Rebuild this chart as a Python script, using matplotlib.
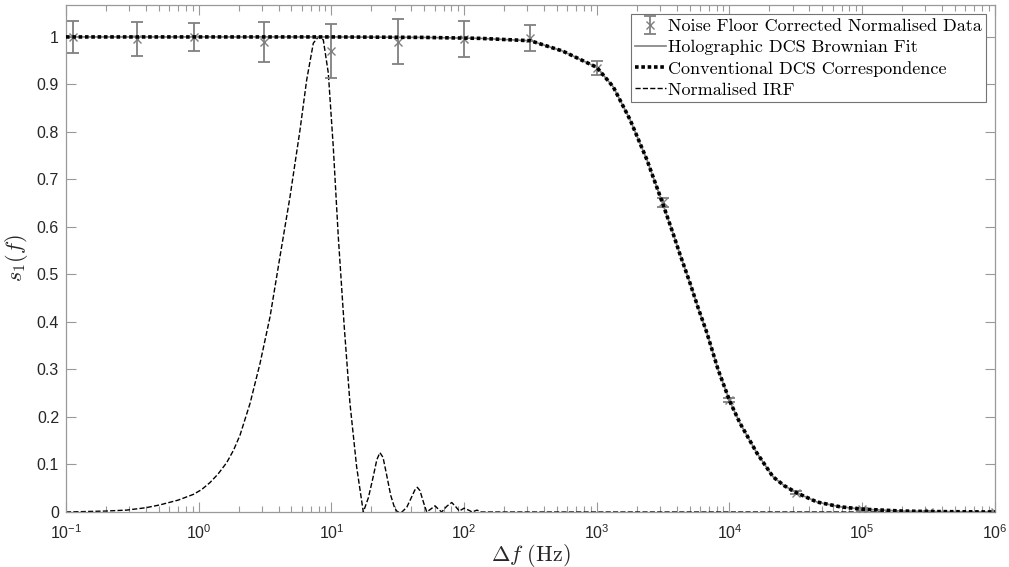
import matplotlib
matplotlib.use("Agg")
import matplotlib.pyplot as plt
from matplotlib.ticker import FuncFormatter, LogLocator, NullFormatter
from matplotlib.font_manager import FontProperties

# measured data (normalised, noise floor corrected)
freq_data = [0.1135, 0.345, 0.922, 3.12, 10.0, 31.6, 100, 316, 1000, 3162,
             10000, 31623, 100000, 316228, 1000000]
s1_data = [1.0, 0.995, 1.0, 0.99, 0.971, 0.99, 0.996, 0.998, 0.935, 0.652,
           0.236, 0.041, 0.006, 0.001, 0.0]
s1_err = [0.033, 0.036, 0.03, 0.042, 0.057, 0.047, 0.038, 0.027, 0.015, 0.01,
          0.005, 0.004, 0.003, 0.002, 0.002]

# fitted curve (holographic fit == conventional DCS correspondence)
freq_fit = [0.1, 1, 10, 50, 132, 316, 556, 1000, 1330, 1780, 2390, 3160,
            3750, 4240, 5040, 5800, 6760, 8200, 10090, 12000, 16100, 21300,
            26000, 32300, 45700, 68000, 100000, 200000, 316000, 1000000]
s1_fit = [1.0, 1.0, 1.0, 0.999, 0.997, 0.992, 0.97, 0.936, 0.895, 0.826,
          0.741, 0.647, 0.587, 0.542, 0.482, 0.43, 0.377, 0.3, 0.232, 0.187,
          0.124, 0.074, 0.055, 0.04, 0.021, 0.011, 0.006, 0.002, 0.001, 0.0]

# normalised instrument response function
freq_irf = [0.1, 0.2, 0.287, 0.4, 0.511, 0.7, 0.91, 1.05, 1.217, 1.4, 1.626,
            1.83, 2.05, 2.44, 2.9, 3.45, 4.1, 4.88, 5.8, 6.51, 7.31, 7.97,
            8.69, 9.48, 10.33, 11.27, 12.5, 13.8, 15.5, 17.4, 19.0, 20.5,
            22.0, 23.2, 24.5, 26.0, 28.0, 30.0, 31.5, 34.0, 37.0, 40.0, 42.5,
            44.4, 46.5, 49.5, 52.3, 56.0, 60.4, 64.0, 67.8, 74.0, 80.7, 86.0,
            92.0, 100, 108, 115, 125, 135, 150, 1000000]
s1_irf = [0.0, 0.002, 0.004, 0.009, 0.015, 0.025, 0.037, 0.047, 0.062, 0.08,
          0.104, 0.13, 0.162, 0.229, 0.313, 0.411, 0.538, 0.664, 0.804, 0.909,
          0.987, 1.0, 0.994, 0.924, 0.769, 0.58, 0.39, 0.229, 0.095, 0.0,
          0.03, 0.07, 0.11, 0.125, 0.115, 0.08, 0.035, 0.008, 0.0, 0.0, 0.01,
          0.03, 0.046, 0.052, 0.045, 0.02, 0.0, 0.006, 0.013, 0.006, 0.0,
          0.012, 0.02, 0.012, 0.002, 0.008, 0.004, 0.0, 0.004, 0.0, 0.0, 0.0]

grey = (0.5, 0.5, 0.5)
axcol = (0.6, 0.6, 0.6)
txtcol = (0.15, 0.15, 0.15)

plt.rcParams['font.family'] = 'Liberation Sans'
plt.rcParams['mathtext.fontset'] = 'custom'
plt.rcParams['mathtext.rm'] = 'Liberation Sans'
plt.rcParams['mathtext.it'] = 'Liberation Sans:italic'

fig = plt.figure(figsize=(10.09, 5.67), dpi=100)
ax = fig.add_axes([0.0654, 0.097, 0.9206, 0.894])

eb = ax.errorbar(freq_data, s1_data, yerr=s1_err, fmt='x', color=grey,
                 markersize=6, capsize=4, elinewidth=1.3, capthick=1.3,
                 label='Noise Floor Corrected Normalised Data', zorder=3)
fit, = ax.plot(freq_fit, s1_fit, '-', color=grey, linewidth=1.2,
               label='Holographic DCS Brownian Fit', zorder=4)
conv, = ax.plot(freq_fit, s1_fit, linestyle=(0, (1, 0.75)), color='black',
                linewidth=2.6, label='Conventional DCS Correspondence', zorder=5)
irf, = ax.plot(freq_irf, s1_irf, '--', color='black', linewidth=1.0,
               label='Normalised IRF', zorder=2)

ax.set_xscale('log')
ax.set_xlim(0.1, 1e6)
ax.set_ylim(0, 1.067)
ax.set_yticks([i / 10 for i in range(11)])
ax.yaxis.set_major_formatter(FuncFormatter(lambda v, _: f'{v:g}'))
ax.xaxis.set_major_locator(LogLocator(base=10, numticks=20))
ax.xaxis.set_minor_locator(LogLocator(base=10, subs=range(2, 10), numticks=20))
ax.xaxis.set_minor_formatter(NullFormatter())

ax.tick_params(which='both', direction='in', top=True, right=True,
               color=axcol, labelcolor=txtcol, labelsize=11.5)
ax.tick_params(which='major', length=7, width=0.8)
ax.tick_params(which='minor', length=4, width=0.8)
ax.tick_params(axis='x', pad=8)
ax.tick_params(axis='y', pad=5)
for sp in ax.spines.values():
    sp.set_color(axcol)
    sp.set_linewidth(0.9)

ax.set_xlabel(r'$\Delta f\ \mathrm{(Hz)}$', fontsize=16, math_fontfamily='cm',
              color=txtcol, labelpad=0)
ax.set_ylabel(r'$s_1(f)$', fontsize=16, math_fontfamily='cm',
              color=txtcol, labelpad=5)

leg = ax.legend([eb, fit, conv, irf],
                ['Noise Floor Corrected Normalised Data',
                 'Holographic DCS Brownian Fit',
                 'Conventional DCS Correspondence', 'Normalised IRF'],
                loc='upper right', prop=FontProperties(family='cmr10', size=13),
                fancybox=False, framealpha=1, edgecolor=(0.45, 0.45, 0.45),
                handlelength=1.7, handletextpad=0.1, borderpad=0.25,
                labelspacing=0.3, borderaxespad=0.5)
leg.get_frame().set_linewidth(0.8)

fig.savefig('out.png', dpi=100)
